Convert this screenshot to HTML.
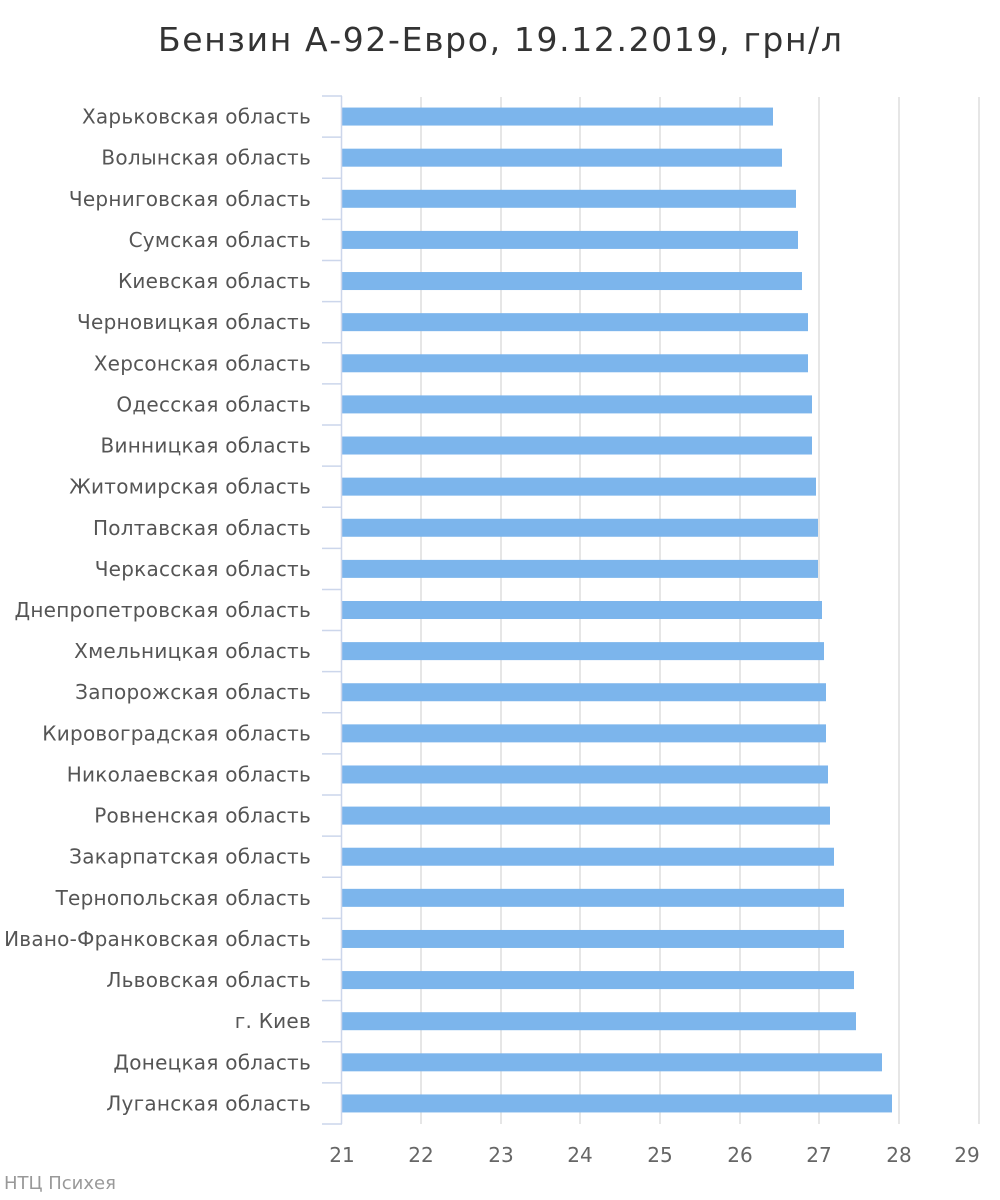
<!DOCTYPE html>
<html><head><meta charset="utf-8"><style>
html,body{margin:0;padding:0;background:#fff;}
svg{display:block;font-family:"DejaVu Sans","Liberation Sans",sans-serif;}
</style></head><body>
<svg width="1000" height="1200" viewBox="0 0 1000 1200" xmlns="http://www.w3.org/2000/svg">
<rect width="1000" height="1200" fill="#fff"/>
<text x="158" y="51" font-size="33" fill="#333" textLength="684" lengthAdjust="spacing">Бензин А-92-Евро, 19.12.2019, грн/л</text>
<g stroke="#e6e6e6" stroke-width="2">
<line x1="421" y1="97" x2="421" y2="1124"/>
<line x1="501" y1="97" x2="501" y2="1124"/>
<line x1="580" y1="97" x2="580" y2="1124"/>
<line x1="660" y1="97" x2="660" y2="1124"/>
<line x1="740" y1="97" x2="740" y2="1124"/>
<line x1="819" y1="97" x2="819" y2="1124"/>
<line x1="899" y1="97" x2="899" y2="1124"/>
<line x1="979" y1="97" x2="979" y2="1124"/>
</g>
<g id="bars" fill="#7cb5ec"></g>
<g id="labels" font-size="20" letter-spacing="0.25" fill="#555" text-anchor="end"></g>
<g id="ticks" stroke="#ccd6eb" stroke-width="1.5" fill="none"></g>
<line x1="341.5" y1="96" x2="341.5" y2="1124" stroke="#ccd6eb" stroke-width="1.5"/>
<g font-size="20" fill="#666" text-anchor="middle">
<text x="342" y="1162">21</text><text x="421" y="1162">22</text><text x="501" y="1162">23</text><text x="580" y="1162">24</text><text x="660" y="1162">25</text><text x="740" y="1162">26</text><text x="819" y="1162">27</text><text x="899" y="1162">28</text><text x="967" y="1162">29</text>
</g>
<text x="4" y="1189" font-size="18" fill="#999">НТЦ Психея</text>
<script>
var names=["Харьковская область","Волынская область","Черниговская область","Сумская область","Киевская область","Черновицкая область","Херсонская область","Одесская область","Винницкая область","Житомирская область","Полтавская область","Черкасская область","Днепропетровская область","Хмельницкая область","Запорожская область","Кировоградская область","Николаевская область","Ровненская область","Закарпатская область","Тернопольская область","Ивано-Франковская область","Львовская область","г. Киев","Донецкая область","Луганская область"];
var ends=[773,782,796,798,802,808,808,812,812,816,818,818,822,824,826,826,828,830,834,844,844,854,856,882,892];
var ns="http://www.w3.org/2000/svg",b=document.getElementById("bars"),l=document.getElementById("labels"),t=document.getElementById("ticks");
var sp=(1124-96)/25;
for(var i=0;i<25;i++){var c=96+sp*(i+0.5);
var r=document.createElementNS(ns,"rect");r.setAttribute("x",342);r.setAttribute("y",c-9);r.setAttribute("width",ends[i]-342);r.setAttribute("height",18);b.appendChild(r);
var tx=document.createElementNS(ns,"text");tx.setAttribute("x",311);tx.setAttribute("y",c+7);tx.textContent=names[i];l.appendChild(tx);}
for(var k=0;k<=25;k++){var y=96+sp*k;var ln=document.createElementNS(ns,"line");ln.setAttribute("x1",322);ln.setAttribute("x2",342);ln.setAttribute("y1",y);ln.setAttribute("y2",y);t.appendChild(ln);}
</script>
</svg>
</body></html>
